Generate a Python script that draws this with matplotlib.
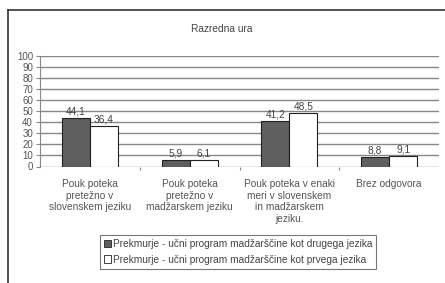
import matplotlib
matplotlib.use("Agg")
import matplotlib.pyplot as plt
import numpy as np
from matplotlib.lines import Line2D
from matplotlib.patches import Patch

categories = ["Pouk poteka\npretežno v\nslovenskem jeziku",
              "Pouk poteka\npretežno v\nmadžarskem jeziku",
              "Pouk poteka v enaki\nmeri v slovenskem\nin madžarskem\njeziku.",
              "Brez odgovora"]
series_names = ["Prekmurje - učni program madžarščine kot drugega jezika",
                "Prekmurje - učni program madžarščine kot prvega jezika"]
values_second = [44.1, 5.9, 41.2, 8.8]
values_first = [36.4, 6.1, 48.5, 9.1]
yticks = list(range(0, 101, 10))
title = "Razredna ura"

plt.rcParams["font.family"] = ["Liberation Sans", "DejaVu Sans"]

W, H = 445, 283
fig = plt.figure(figsize=(W/100, H/100), dpi=100)
fig.patch.set_facecolor("white")

# outer frame (top and left visible)
fig.add_artist(Line2D([8/W, 8/W], [0, 1-9.5/H], color="#333333", lw=1.2, transform=fig.transFigure))
fig.add_artist(Line2D([8/W, 1], [1-9.5/H, 1-9.5/H], color="#333333", lw=1.2, transform=fig.transFigure))

ax = fig.add_axes([40/W, 1-166.5/H, 399/W, (166.5-56)/H])
x = np.arange(len(categories))
bw = 0.28
fs = 7.3
ax.bar(x - bw/2, values_second, bw, color="#5f5f5f", edgecolor="#222222", lw=0.8, zorder=3)
ax.bar(x + bw/2, values_first, bw, color="white", edgecolor="#222222", lw=0.8, zorder=3)
for xi, v in zip(x, values_second):
    ax.text(xi - bw/2, v + 1.5, f"{v:.1f}".replace(".", ","), ha="center", va="bottom", fontsize=fs, color="#444444")
for xi, v in zip(x, values_first):
    ax.text(xi + bw/2, v + 1.5, f"{v:.1f}".replace(".", ","), ha="center", va="bottom", fontsize=fs, color="#444444")

ax.set_xlim(-0.5, len(categories) - 0.5)
ax.set_ylim(0, 100)
ax.set_yticks(yticks)
ax.set_yticklabels([str(t) for t in yticks], fontsize=fs - 0.3, color="#555555")
ax.yaxis.grid(True, color="#888888", lw=1.0, zorder=0)
ax.set_axisbelow(True)
for s in ["top", "right", "bottom"]:
    ax.spines[s].set_visible(False)
ax.spines["left"].set_color("#888888")
ax.tick_params(axis="y", length=3, width=0.8, color="#888888", pad=2)
ax.set_xticks(x)
ax.set_xticklabels(categories, fontsize=fs, color="#555555", linespacing=1.2)
ax.tick_params(axis="x", length=0, pad=9)
ax.set_xticks(x[:-1] + 0.5, minor=True)
ax.tick_params(axis="x", which="minor", length=2.5, color="#888888", width=0.8)

fig.text(222/W, 1-29/H, title, ha="center", va="center", fontsize=fs, color="#444444")

handles = [Patch(facecolor="#5f5f5f", edgecolor="#222222", lw=0.6),
           Patch(facecolor="white", edgecolor="#222222", lw=0.6)]
leg = fig.legend(handles, series_names, loc="center", bbox_to_anchor=(238/W, 1-252/H),
                 fontsize=fs, frameon=True, fancybox=False, handlelength=0.7, handleheight=0.7,
                 handletextpad=0.2, borderpad=0.4, labelspacing=0.5, labelcolor="#444444")
leg.get_frame().set_edgecolor("#555555")
leg.get_frame().set_linewidth(0.8)

fig.savefig("out.png", dpi=100)
